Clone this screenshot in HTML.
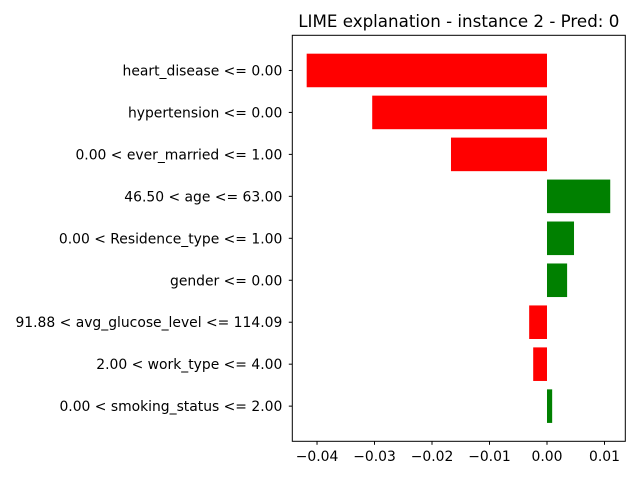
<!DOCTYPE html>
<html><head><meta charset="utf-8"><style>
body{margin:0;background:#fff;}
svg{display:block;font-family:"DejaVu Sans","Liberation Sans",sans-serif;}
</style></head><body>
<svg id="chart" width="640" height="480">
<text x="458.8" y="27" font-size="16.7" text-anchor="middle">LIME explanation - instance 2 - Pred: 0</text>
<g id="bars"></g>
<g id="yticks"></g>
<g id="xticks"></g>
<rect x="292.3" y="35.3" width="333" height="406" fill="none" stroke="#000" stroke-width="1"/>
</svg>
<script>
const features = ["0.00 < smoking_status <= 2.00","2.00 < work_type <= 4.00","91.88 < avg_glucose_level <= 114.09","gender <= 0.00","0.00 < Residence_type <= 1.00","46.50 < age <= 63.00","0.00 < ever_married <= 1.00","hypertension <= 0.00","heart_disease <= 0.00"];
const weights = [0.0009,-0.0024,-0.0031,0.0035,0.0047,0.0110,-0.0167,-0.0304,-0.0418];
const xTickValues = [-0.04,-0.03,-0.02,-0.01,0.00,0.01];
const xTickLabels = ["\u22120.04","\u22120.03","\u22120.02","\u22120.01","0.00","0.01"];

const NS="http://www.w3.org/2000/svg";
const x0=292.3,x1=625.3,xmin=-0.0443,xmax=0.01362;
function xs(v){return x0+(v-xmin)/(xmax-xmin)*(x1-x0);}
const n=features.length;
function ys(i){
  const top=35.3,bot=441.3,lo=-0.5-0.338,hi=n-0.5+0.338;
  return bot-(i-lo)/(hi-lo)*(bot-top);
}
const step=Math.abs(ys(1)-ys(0));
const bars=document.getElementById('bars'),yt=document.getElementById('yticks'),xt=document.getElementById('xticks');
weights.forEach((w,i)=>{
  const r=document.createElementNS(NS,'rect');
  const a=xs(Math.min(0,w)),b=xs(Math.max(0,w));
  r.setAttribute('x',a);r.setAttribute('width',b-a);
  r.setAttribute('y',ys(i)-step*0.4);r.setAttribute('height',step*0.8);
  r.setAttribute('fill',w<0?'#ff0000':'#008000');
  
  
  bars.appendChild(r);
  const l=document.createElementNS(NS,'line');
  l.setAttribute('x1',x0-3.5);l.setAttribute('x2',x0);l.setAttribute('y1',ys(i));l.setAttribute('y2',ys(i));l.setAttribute('stroke','#000');
  
  
  yt.appendChild(l);
  const t=document.createElementNS(NS,'text');
  t.setAttribute('x',x0-10);t.setAttribute('y',ys(i)+5);t.setAttribute('text-anchor','end');t.setAttribute('font-size','13.9');
  t.textContent=features[i];
  
  
  yt.appendChild(t);
});
xTickValues.forEach((v,k)=>{
  const x=xs(v);
  const l=document.createElementNS(NS,'line');
  l.setAttribute('x1',x);l.setAttribute('x2',x);l.setAttribute('y1',441.3);l.setAttribute('y2',444.8);l.setAttribute('stroke','#000');
  
  
  xt.appendChild(l);
  const t=document.createElementNS(NS,'text');
  t.setAttribute('x',x);t.setAttribute('y',461);t.setAttribute('text-anchor','middle');t.setAttribute('font-size','13.9');
  t.textContent=xTickLabels[k];
  
  
  xt.appendChild(t);
});
</script>
</body></html>
